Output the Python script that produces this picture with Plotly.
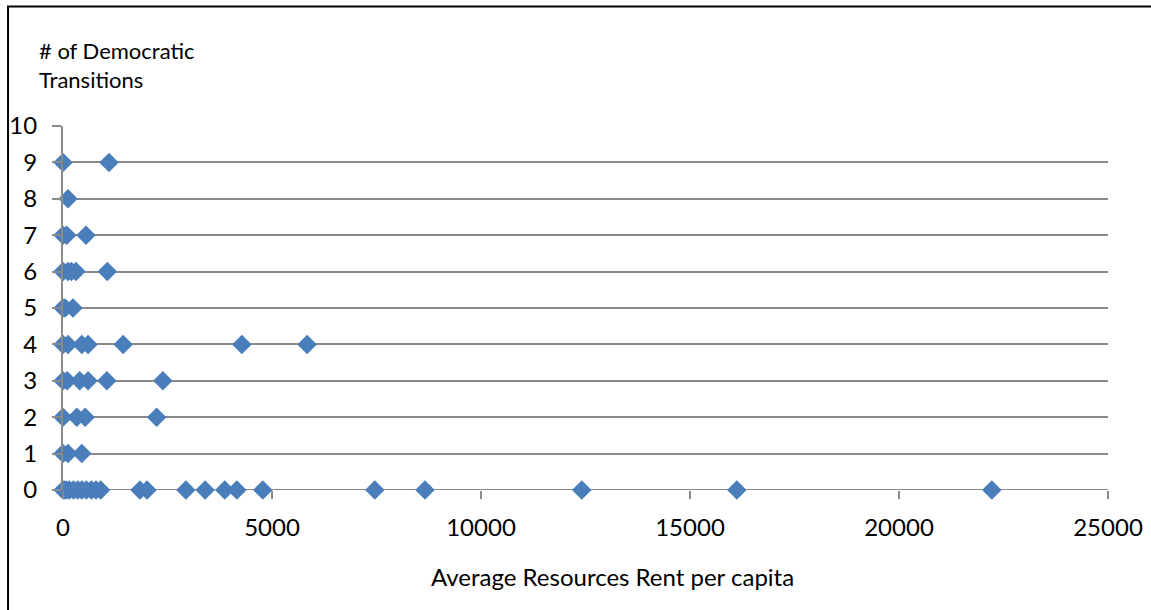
import plotly.graph_objects as go

# Average resource rent per capita for each country and its number of democratic transitions
rent_per_capita = [
    0, 1100,
    120,
    0, 90, 550,
    0, 120, 200, 310, 1060,
    0, 50, 240,
    0, 120, 450, 600, 1440, 4280, 5840,
    0, 100, 400, 600, 1050, 2390,
    0, 330, 530, 2240,
    0, 120, 450,
    0, 30, 80, 150, 250, 350, 450, 560, 680, 790, 900,
    1840, 2010, 2940, 3400, 3870, 4160, 4780, 7460, 8660, 12410, 16120, 22220,
]
transitions = (
    [9] * 2 + [8] * 1 + [7] * 3 + [6] * 5 + [5] * 3 + [4] * 7
    + [3] * 6 + [2] * 4 + [1] * 3 + [0] * 23
)

x_ticks = [0, 5000, 10000, 15000, 20000, 25000]
y_ticks = list(range(0, 11))

FONT = "Lato, 'Liberation Sans', sans-serif"
GRID = "#8a8a8a"
BLUE = "#4a7ebb"

fig = go.Figure(
    go.Scatter(
        x=rent_per_capita,
        y=transitions,
        mode="markers",
        marker=dict(symbol="diamond", size=15, color=BLUE, line=dict(width=0)),
        cliponaxis=False,
        showlegend=False,
    )
)

fig.update_layout(
    width=1151,
    height=610,
    margin=dict(l=63, r=43, t=126, b=120, autoexpand=False),
    paper_bgcolor="white",
    plot_bgcolor="white",
    font=dict(family=FONT, color="#000000"),
    xaxis=dict(
        range=[0, 25000],
        automargin=False,
        tickvals=x_ticks,
        ticktext=[str(v) for v in x_ticks],
        ticks="outside",
        ticklen=8,
        tickcolor=GRID,
        tickwidth=2,
        showgrid=False,
        zeroline=False,
        showline=False,
        tickfont=dict(size=24, family=FONT),
        ticklabelstandoff=8,
    ),
    yaxis=dict(
        range=[0, 10],
        automargin=False,
        tickvals=y_ticks,
        ticks="outside",
        ticklen=9,
        tickcolor=GRID,
        tickwidth=2,
        showgrid=True,
        gridcolor=GRID,
        gridwidth=2,
        zeroline=False,
        showline=True,
        linecolor=GRID,
        linewidth=2,
        tickfont=dict(size=24, family=FONT),
        ticklabelstandoff=10,
    ),
    annotations=[
        dict(
            text="# of Democratic<br>Transitions",
            xref="paper", yref="paper",
            x=-0.025, y=1.25,
            xanchor="left", yanchor="top",
            align="left",
            showarrow=False,
            font=dict(size=22, family=FONT),
        ),
        dict(
            text="Average Resources Rent per capita",
            xref="paper", yref="paper",
            x=0.526, y=-0.239,
            xanchor="center", yanchor="middle",
            showarrow=False,
            font=dict(size=24, family=FONT),
        ),
    ],
    shapes=[
        # x-axis baseline at zero transitions
        dict(type="line", xref="paper", yref="y", x0=0, x1=1, y0=0, y1=0,
             line=dict(color=GRID, width=2), layer="below"),
        # outer chart frame
        dict(type="rect", xref="paper", yref="paper",
             x0=-0.0526, x1=1.3, y0=-0.6, y1=1.328,
             line=dict(color="black", width=2), layer="above"),
    ],
)

fig.write_html("out.html")
